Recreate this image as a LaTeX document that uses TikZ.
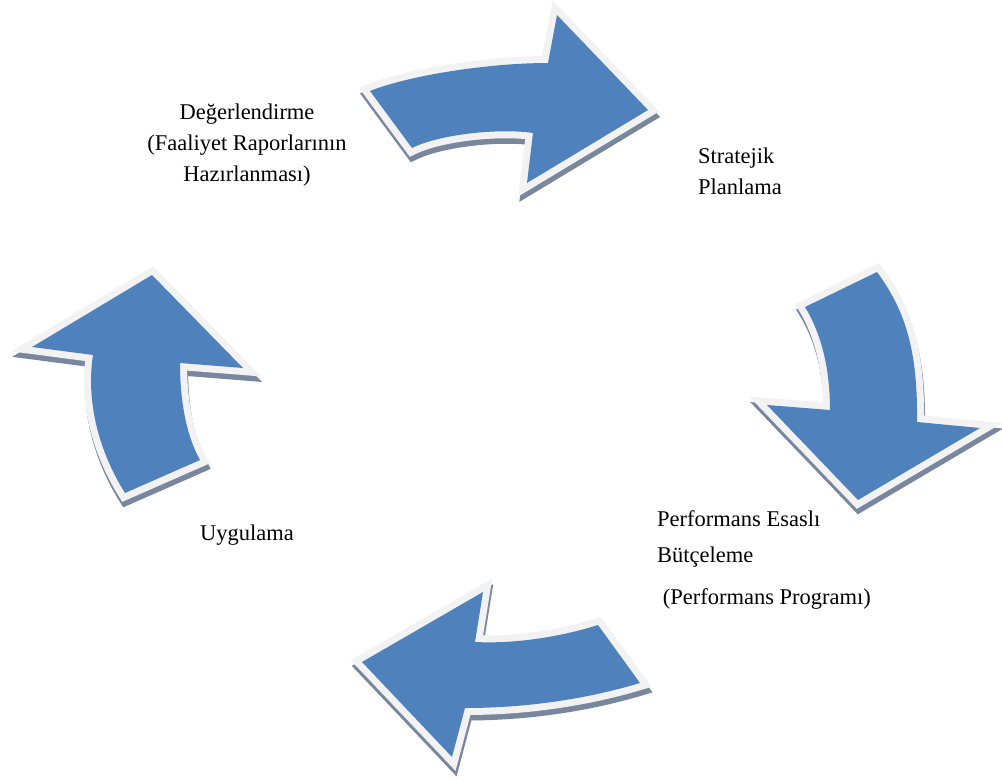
\documentclass[tikz,border=0pt]{standalone}
\usepackage{fontspec}
\setmainfont{Liberation Serif}
\usepackage{tikz}
\definecolor{cycleblue}{RGB}{79,129,189}
\definecolor{rimgray}{RGB}{242,242,242}
\definecolor{edgeblue}{RGB}{120,134,158}

% outlines of the four curved arrows
\newcommand{\shapeN}{(370,91) .. controls (410,75) and (490,63) .. (548,63)
  -- (557,15) -- (648,110) -- (527,183) -- (533,133)
  .. controls (500,128) and (440,134) .. (412,148) -- cycle}
\newcommand{\shapeE}{(805,307) -- (877,272) .. controls (905,310) and (918,350) .. (917,422)
  -- (980,428) -- (858,500) -- (767,405) -- (830,410)
  .. controls (830,370) and (822,335) .. cycle}
\newcommand{\shapeS}{(362,662) -- (483,592) -- (475,642)
  .. controls (515,644) and (560,637) .. (598,625)
  -- (640,683) .. controls (590,698) and (530,708) .. (465,708)
  -- (452,757) -- cycle}
\newcommand{\shapeW}{(152,275) -- (243,368) -- (180,363)
  .. controls (180,400) and (186,435) .. (200,460)
  -- (125,493) .. controls (98,450) and (86,400) .. (93,355)
  -- (32,347) -- cycle}

\begin{document}
\begin{tikzpicture}[x=1pt,y=-1pt,
    extrude/.style={fill=edgeblue,draw=edgeblue,line width=14,line join=miter},
    rim/.style={draw=rimgray,line width=14,line join=miter},
    label/.style={font=\fontsize{22.5}{31}\selectfont,inner sep=0pt}]
  \useasboundingbox (0,0) rectangle (1002,782);

  \foreach \s in {\shapeN,\shapeE,\shapeS,\shapeW}{
    \path[extrude,shift={(1,5.5)}] \s;
    \path[rim] \s;
    \fill[cycleblue] \s;
  }

  \node[label,align=center] (deger) at (247,145)
    {Değerlendirme\\(Faaliyet Raporlarının\\Hazırlanması)};
  \node[label,align=left,anchor=west] (plan) at (698,171) {Stratejik\\Planlama};
  \node[label,align=left,anchor=north west] (butce) at (657,510)
    {Performans Esaslı\\[5pt]Bütçeleme\\[11pt]\ (Performans Programı)};
  \node[label] (uygu) at (247,535) {Uygulama};
\end{tikzpicture}
\end{document}
